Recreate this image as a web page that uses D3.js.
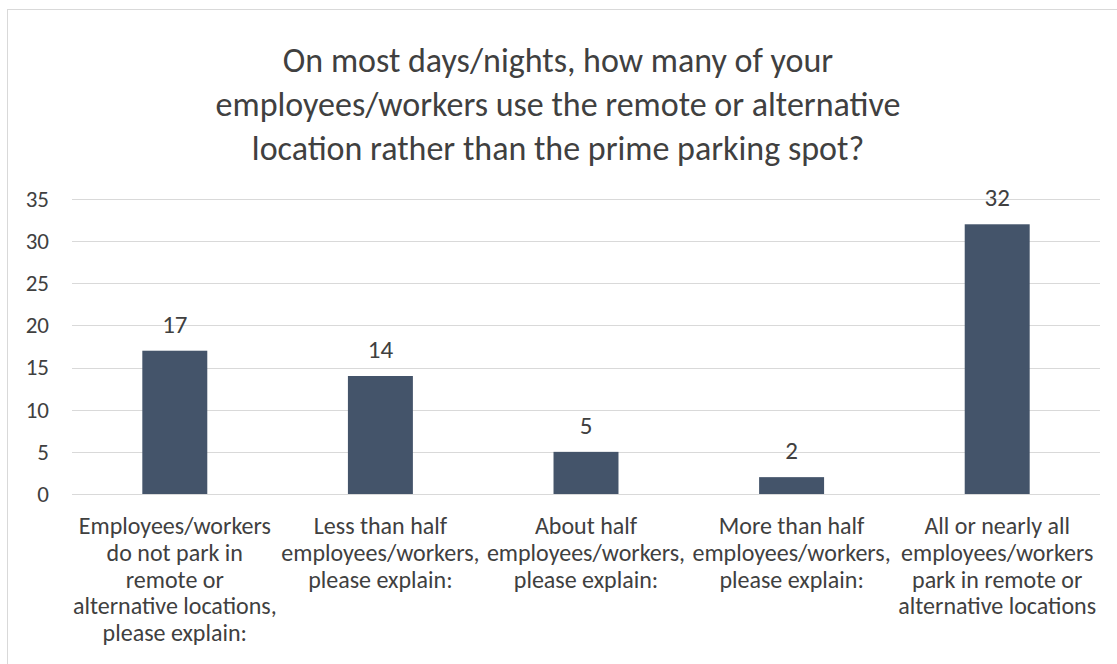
<!DOCTYPE html>
<html lang="en">
<head>
    <meta charset="UTF-8">
    <title>Remote parking chart</title>
    <style>
        body { margin: 0; background: #fff; }
        text { font-family: Carlito, Calibri, Lato, sans-serif; fill: #404040; }
        .grid line { stroke: #d9d9d9; stroke-width: 1px; }
        .bar { fill: #44546a; }
    </style>
</head>
<body>
    <div id="chart"></div>
    <script src="https://d3js.org/d3.v7.min.js"></script>
    <script>
        "use strict";

        // data
        const categories = [
            ["Employees/workers", "do not park in", "remote or", "alternative locations,", "please explain:"],
            ["Less than half", "employees/workers,", "please explain:"],
            ["About half", "employees/workers,", "please explain:"],
            ["More than half", "employees/workers,", "please explain:"],
            ["All or nearly all", "employees/workers", "park in remote or", "alternative locations"]
        ];
        const counts = [17, 14, 5, 2, 32];
        const yTicks = [0, 5, 10, 15, 20, 25, 30, 35];
        const titleLines = [
            "On most days/nights, how many of your",
            "employees/workers use the remote or alternative",
            "location rather than the prime parking spot?"
        ];

        const width = 1117, height = 664;
        const plotLeft = 72, plotRight = 1100, plotTop = 199, plotBottom = 494;

        const svg = d3.select("#chart").append("svg")
            .attr("width", width)
            .attr("height", height);

        // chart border
        svg.append("rect")
            .attr("x", 7.5).attr("y", 9.5)
            .attr("width", 1120).attr("height", 700)
            .attr("fill", "none")
            .attr("stroke", "#d9d9d9");

        // title
        svg.append("g").selectAll("text")
            .data(titleLines)
            .enter().append("text")
            .attr("x", 558)
            .attr("y", (d, i) => 72 + i * 44)
            .attr("text-anchor", "middle")
            .style("font-size", "34px")
            .text(d => d);

        const x = d3.scaleBand()
            .domain(d3.range(counts.length))
            .range([plotLeft, plotRight])
            .paddingInner(0.684)
            .paddingOuter(0.342);

        const y = d3.scaleLinear()
            .domain([0, 35])
            .range([plotBottom, plotTop]);

        // gridlines
        svg.append("g")
            .attr("class", "grid")
            .selectAll("line")
            .data(yTicks)
            .enter().append("line")
            .attr("x1", plotLeft).attr("x2", plotRight)
            .attr("y1", d => Math.round(y(d)) + 0.5)
            .attr("y2", d => Math.round(y(d)) + 0.5);

        // y axis labels
        const yAxis = d3.axisLeft(y).tickValues(yTicks).tickSize(0).tickPadding(23);
        svg.append("g")
            .attr("transform", "translate(" + plotLeft + ",0)")
            .call(yAxis)
            .call(g => g.select(".domain").remove())
            .call(g => g.selectAll("text")
                .style("font-size", "23px")
                .attr("fill", "#404040"))
            .attr("font-family", null);

        // bars
        svg.append("g").selectAll("rect")
            .data(counts)
            .enter().append("rect")
            .attr("class", "bar")
            .attr("x", (d, i) => x(i))
            .attr("y", d => y(d))
            .attr("width", x.bandwidth())
            .attr("height", d => plotBottom - y(d));

        // value labels
        svg.append("g").selectAll("text")
            .data(counts)
            .enter().append("text")
            .attr("x", (d, i) => x(i) + x.bandwidth() / 2)
            .attr("y", d => y(d) - 18)
            .attr("text-anchor", "middle")
            .style("font-size", "25px")
            .text(d => d);

        // category labels
        const cat = svg.append("g").selectAll("text")
            .data(categories)
            .enter().append("text")
            .attr("text-anchor", "middle")
            .style("font-size", "24px");

        cat.selectAll("tspan")
            .data((d, i) => d.map(line => ({ line: line, i: i })))
            .enter().append("tspan")
            .attr("x", d => x(d.i) + x.bandwidth() / 2)
            .attr("y", (d, j) => 534 + j * 26.75)
            .text(d => d.line);
    </script>
</body>
</html>
